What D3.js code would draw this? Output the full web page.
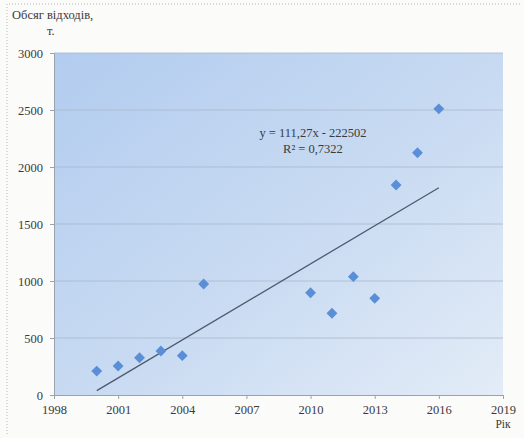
<!DOCTYPE html>
<html>
<head>
<meta charset="utf-8">
<script src="https://cdn.jsdelivr.net/npm/d3@7"></script>
<style>
  html, body { margin: 0; padding: 0; background: #fbfbfa; }
  svg { display: block; }
</style>
</head>
<body>
<svg id="chart" width="524" height="438"></svg>
<script>
// Waste volume by year, tonnes
const years  = [2000, 2001, 2002, 2003, 2004, 2005, 2010, 2011, 2012, 2013, 2014, 2015, 2016];
const waste  = [210, 254, 327, 386, 345, 974, 897, 717, 1038, 848, 1842, 2125, 2510];
const xTicks = [1998, 2001, 2004, 2007, 2010, 2013, 2016, 2019];
const yTicks = [0, 500, 1000, 1500, 2000, 2500, 3000];
// Linear trend shown on the chart
const trendSlope = 111.27;
const trendIntercept = -222502;
const trendLabel = ["y = 111,27x  - 222502", "R² = 0,7322"];

const FONT = "'Liberation Serif', 'Times New Roman', 'DejaVu Serif', serif";
const INK = "#3a3a3a";

const svg = d3.select("#chart");
const W = 524, H = 438;
const m = { left: 54, right: 21, top: 53, bottom: 43 };

const x = d3.scaleLinear().domain([1998, 2019]).range([m.left, W - m.right]);
const y = d3.scaleLinear().domain([0, 3000]).range([H - m.bottom, m.top]);

// faint dotted frame around the chart
svg.append("path")
  .attr("d", `M7,${H - 4} V4 H${W - 4}`)
  .attr("fill", "none").attr("stroke", "#b8b8b8")
  .attr("stroke-width", 1).attr("stroke-dasharray", "1,2");

// plot-area gradient
const defs = svg.append("defs");
const grad = defs.append("linearGradient").attr("id", "bg")
  .attr("x1", "0%").attr("y1", "0%").attr("x2", "100%").attr("y2", "100%");
grad.append("stop").attr("offset", "0%").attr("stop-color", "#b2ccef");
grad.append("stop").attr("offset", "55%").attr("stop-color", "#c9dbf2");
grad.append("stop").attr("offset", "100%").attr("stop-color", "#e3ecf7");

svg.append("rect")
  .attr("x", x(1998)).attr("y", y(3000))
  .attr("width", x(2019) - x(1998)).attr("height", y(0) - y(3000))
  .attr("fill", "url(#bg)");

// horizontal grid
svg.append("g").selectAll("line")
  .data(yTicks.filter(v => v > 0))
  .join("line")
  .attr("x1", x(1998)).attr("x2", x(2019))
  .attr("y1", d => y(d)).attr("y2", d => y(d))
  .attr("stroke", "#a9b8cc").attr("stroke-width", 0.8);

function styleAxis(g) {
  g.attr("font-family", FONT).attr("font-size", 12.5);
  g.select(".domain").attr("stroke", "#9aa3ad");
  g.selectAll(".tick line").attr("stroke", "#9aa3ad");
  g.selectAll(".tick text").attr("fill", INK).attr("font-family", FONT);
}

// y axis
svg.append("g")
  .attr("transform", `translate(${x(1998)},0)`)
  .call(d3.axisLeft(y).tickValues(yTicks).tickSize(4).tickPadding(7).tickFormat(d3.format("d")))
  .call(styleAxis);

// x axis
svg.append("g")
  .attr("transform", `translate(0,${y(0)})`)
  .call(d3.axisBottom(x).tickValues(xTicks).tickSize(4).tickPadding(6).tickFormat(d3.format("d")))
  .call(styleAxis);

// axis titles
const titles = svg.append("g").attr("font-family", FONT).attr("fill", INK);
titles.append("text").attr("x", 12).attr("y", 19).attr("font-size", 12.5).text("Обсяг відходів,");
titles.append("text").attr("x", 47).attr("y", 35).attr("font-size", 12.5).text("т.");
titles.append("text").attr("x", x(2019)).attr("y", 428).attr("text-anchor", "middle")
  .attr("font-size", 11.5).text("Рік");

// trend line
const tx0 = d3.min(years), tx1 = d3.max(years);
svg.append("line")
  .attr("x1", x(tx0)).attr("y1", y(trendSlope * tx0 + trendIntercept))
  .attr("x2", x(tx1)).attr("y2", y(trendSlope * tx1 + trendIntercept))
  .attr("stroke", "#4d5a6e").attr("stroke-width", 1.3);

// data points as diamonds
const pts = years.map((yr, i) => ({ yr, v: waste[i] }));
svg.append("g").selectAll("path")
  .data(pts)
  .join("path")
  .attr("transform", d => `translate(${x(d.yr)},${y(d.v)})`)
  .attr("d", d3.symbol(d3.symbolDiamond2, 75))
  .attr("fill", "#5a8fd8");

// equation label
svg.append("g").attr("font-family", FONT).attr("fill", INK)
  .selectAll("text")
  .data(trendLabel)
  .join("text")
  .attr("x", 313).attr("y", (d, i) => 137 + i * 16)
  .attr("text-anchor", "middle").attr("font-size", 12.5)
  .text(d => d);
</script>
</body>
</html>
